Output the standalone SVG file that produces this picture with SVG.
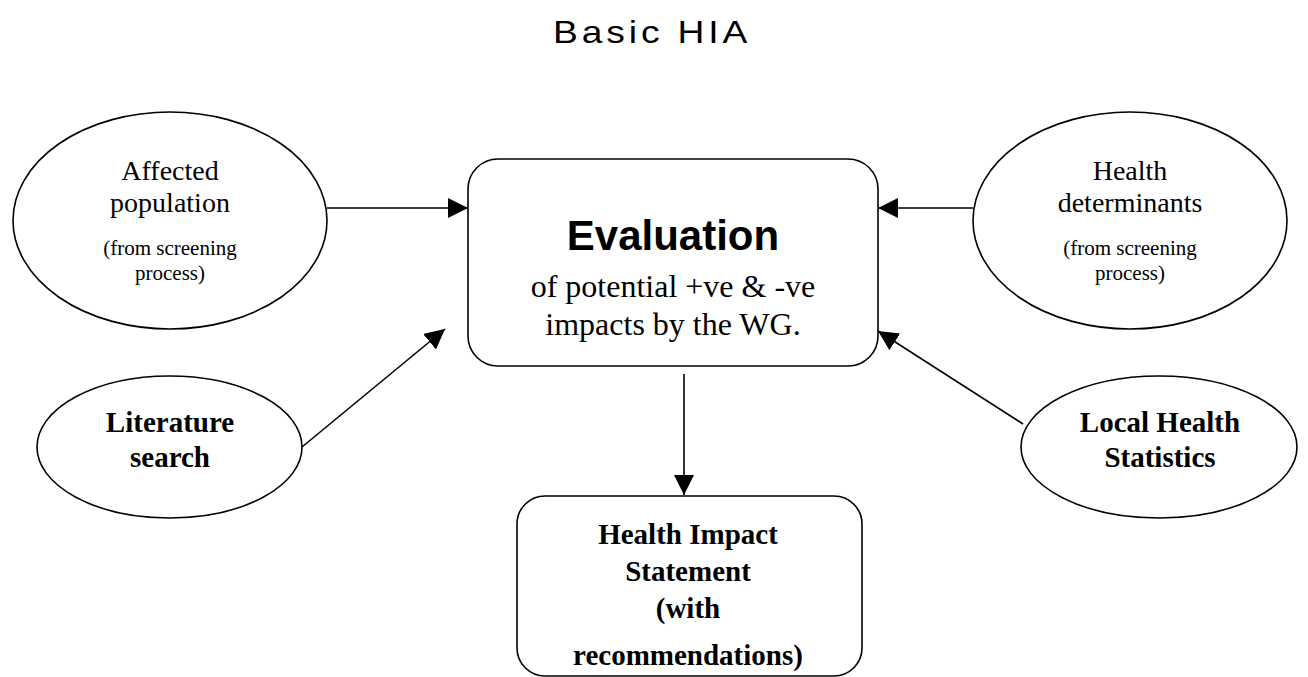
<svg xmlns="http://www.w3.org/2000/svg" width="1308" height="677" viewBox="0 0 1308 677">
<style>
.shape{fill:#fff;stroke:#000;stroke-width:1.6}
.conn{stroke:#000;stroke-width:1.6;fill:none}
.serif{font-family:"Liberation Serif","Times New Roman",serif;fill:#000;text-anchor:middle}
.b{font-weight:bold}
.lg{font-size:28px}
.sm{font-size:21px}
.bd{font-size:29px;font-weight:bold}
</style>
<defs>
<marker id="ah" markerUnits="userSpaceOnUse" markerWidth="21" markerHeight="21" refX="20" refY="10" orient="auto">
<path d="M0,0 L20,10 L0,20 z" fill="#000"/>
</marker>
</defs>
<rect width="1308" height="677" fill="#fff"/>
<text x="553" y="43" font-family="Liberation Sans, Arial, sans-serif" font-size="31" transform="translate(553 0) scale(1.2 1) translate(-553 0)" textLength="162" lengthAdjust="spacing" fill="#000">Basic HIA</text>

<g id="connectors">
<line class="conn" x1="327" y1="208" x2="468" y2="208" marker-end="url(#ah)"/>
<line class="conn" x1="973" y1="208" x2="878" y2="208" marker-end="url(#ah)"/>
<line class="conn" x1="302" y1="447" x2="445" y2="329" marker-end="url(#ah)"/>
<line class="conn" x1="1023" y1="424" x2="878" y2="331" marker-end="url(#ah)"/>
<line class="conn" x1="684" y1="374" x2="684" y2="495" marker-end="url(#ah)"/>
</g>

<g id="affected">
<ellipse class="shape" cx="170" cy="220.5" rx="157" ry="108.5"/>
<text class="serif lg" x="170" y="180">Affected</text>
<text class="serif lg" x="170" y="212">population</text>
<text class="serif sm" x="170" y="255">(from screening</text>
<text class="serif sm" x="170" y="280">process)</text>
</g>

<g id="determinants">
<ellipse class="shape" cx="1130" cy="220.5" rx="157" ry="108.5"/>
<text class="serif lg" x="1130" y="180">Health</text>
<text class="serif lg" x="1130" y="212">determinants</text>
<text class="serif sm" x="1130" y="255">(from screening</text>
<text class="serif sm" x="1130" y="280">process)</text>
</g>

<g id="evaluation">
<rect class="shape" x="468" y="159" width="410" height="207" rx="30" ry="30"/>
<text x="673" y="250" font-family="Liberation Sans, Arial, sans-serif" font-size="42" font-weight="bold" text-anchor="middle" fill="#000">Evaluation</text>
<text class="serif" x="673" y="297" font-size="32">of potential +ve &amp; -ve</text>
<text class="serif" x="673" y="335" font-size="32">impacts by the WG.</text>
</g>

<g id="literature">
<ellipse class="shape" cx="169.5" cy="447" rx="132.5" ry="71"/>
<text class="serif bd" x="170" y="432">Literature</text>
<text class="serif bd" x="170" y="467">search</text>
</g>

<g id="local">
<ellipse class="shape" cx="1159" cy="447" rx="138" ry="71"/>
<text class="serif bd" x="1160" y="432">Local Health</text>
<text class="serif bd" x="1160" y="467">Statistics</text>
</g>

<g id="statement">
<rect class="shape" x="517" y="496" width="345" height="180" rx="28" ry="28"/>
<text class="serif bd" x="688" y="544">Health Impact</text>
<text class="serif bd" x="688" y="581">Statement</text>
<text class="serif bd" x="688" y="618">(with</text>
<text class="serif bd" x="688" y="665">recommendations)</text>
</g>
</svg>
